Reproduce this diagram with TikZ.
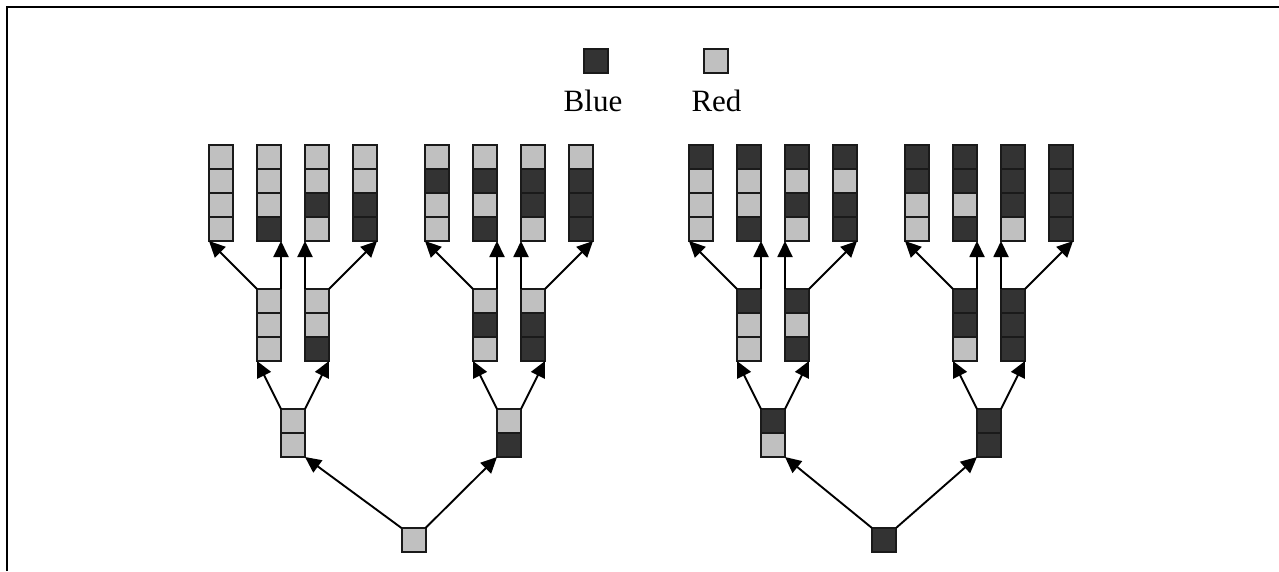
\documentclass[tikz,border=0pt]{standalone}
\usepackage{fontspec}
\setmainfont{Liberation Serif}
\usetikzlibrary{arrows.meta}
\definecolor{B}{HTML}{333333}
\definecolor{R}{HTML}{C0C0C0}
\definecolor{edge}{HTML}{1A1A1A}
% #1 name, #2 left x, #3 top y, #4 list of colours (top to bottom)
\newcommand\cellcol[4]{\foreach \c [count=\i] in {#4}{\node[cell,fill=\c] (#1-\i) at ({#2+12},{#3+12+24*(\i-1)}) {};}}
% #1 prefix, #2 x offset, #3 root colour, #4 root left x
\newcommand\binarytree[4]{%
  \cellcol{#1r}{#4}{528}{#3}
  \cellcol{#1a}{281+#2}{409}{#3,R}
  \cellcol{#1b}{497+#2}{409}{#3,B}
  \cellcol{#1aa}{257+#2}{289}{#3,R,R}
  \cellcol{#1ab}{305+#2}{289}{#3,R,B}
  \cellcol{#1ba}{473+#2}{289}{#3,B,R}
  \cellcol{#1bb}{521+#2}{289}{#3,B,B}
  \cellcol{#1aaa}{209+#2}{145}{#3,R,R,R}
  \cellcol{#1aab}{257+#2}{145}{#3,R,R,B}
  \cellcol{#1aba}{305+#2}{145}{#3,R,B,R}
  \cellcol{#1abb}{353+#2}{145}{#3,R,B,B}
  \cellcol{#1baa}{425+#2}{145}{#3,B,R,R}
  \cellcol{#1bab}{473+#2}{145}{#3,B,R,B}
  \cellcol{#1bba}{521+#2}{145}{#3,B,B,R}
  \cellcol{#1bbb}{569+#2}{145}{#3,B,B,B}
  \draw[arr] (#1r-1.north west) -- (#1a-2.south east);
  \draw[arr] (#1r-1.north east) -- (#1b-2.south west);
  \draw[arr] (#1a-1.north west) -- (#1aa-3.south west);
  \draw[arr] (#1a-1.north east) -- (#1ab-3.south east);
  \draw[arr] (#1b-1.north west) -- (#1ba-3.south west);
  \draw[arr] (#1b-1.north east) -- (#1bb-3.south east);
  \draw[arr] (#1aa-1.north west) -- (#1aaa-4.south west);
  \draw[arr] (#1aa-1.north east) -- (#1aab-4.south east);
  \draw[arr] (#1ab-1.north west) -- (#1aba-4.south west);
  \draw[arr] (#1ab-1.north east) -- (#1abb-4.south east);
  \draw[arr] (#1ba-1.north west) -- (#1baa-4.south west);
  \draw[arr] (#1ba-1.north east) -- (#1bab-4.south east);
  \draw[arr] (#1bb-1.north west) -- (#1bba-4.south west);
  \draw[arr] (#1bb-1.north east) -- (#1bbb-4.south east);
}
\begin{document}
\begin{tikzpicture}[x=1pt,y=-1pt,
  cell/.style={draw=edge,line width=2pt,minimum width=24pt,minimum height=24pt,inner sep=0pt,outer sep=0pt},
  arr/.style={-{Triangle[length=16pt,width=15pt]},line width=1.9pt,draw=black},
  lab/.style={font=\fontsize{31}{37}\selectfont,anchor=base,inner sep=0pt}]
\useasboundingbox (0,0) rectangle (1279,571);
\draw[line width=2.2pt] (7,571) -- (7,7) -- (1279,7);
% legend
\node[cell,fill=B] (keyblue) at (596,61) {};
\node[cell,fill=R] (keyred) at (715.5,61) {};
\node[lab] (txtblue) at (593,111.5) {Blue};
\node[lab] (txtred) at (716.5,111.5) {Red};
% trees
\binarytree{L}{0}{R}{401.5}
\binarytree{Q}{480}{B}{872}
\end{tikzpicture}
\end{document}
